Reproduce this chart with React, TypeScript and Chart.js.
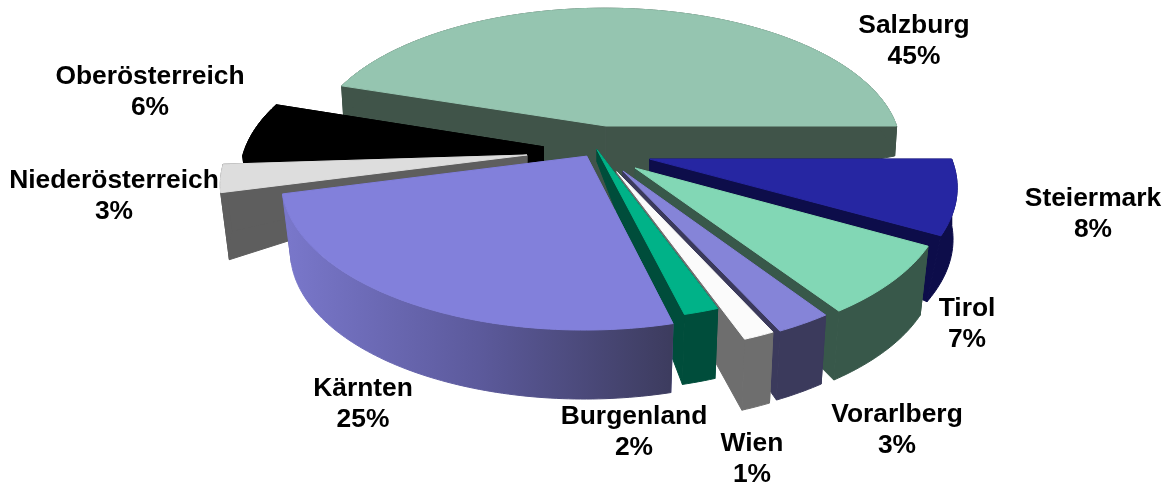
import React, { useEffect, useRef } from "react";
import { Chart, registerables } from "chart.js";

Chart.register(...registerables);

const regions = ["Salzburg", "Steiermark", "Tirol", "Vorarlberg", "Wien", "Burgenland", "Kärnten", "Niederösterreich", "Oberösterreich"];
const shares = [45, 8, 7.49, 2.51, 1.4, 1.6, 25, 3, 6];
const topColors = ["#95c5b0", "#2626a2", "#82d7b5", "#8584d8", "#fbfbfb", "#00b288", "#8280db", "#dddddd", "#000000"];
const wallColors = ["#405449", "#0d0d4a", "#38584a", "#3b3a5c", "#6e6e6e", "#004d3b", "#5c5a9c", "#5e5e5e", "#000000"];

// layout of the 3D look, per region: slice shift on the unit disk, wall height at apex and at rim
const shiftU = [0.02, 0.165, 0.115, 0.075, 0.055, -0.01, -0.044, -0.243, -0.19];
const shiftV = [-0.154, 0.08, 0.14, 0.16, 0.165, 0.015, 0.06, 0.052, -0.005];
const wallApex = [85, 14, 12, 12, 12, 12, 12, 10, 18];
const wallRim = [30, 66, 69, 69, 71, 70, 69, 67, 69];
const wallLean = [2, 0, 9, 8, 8, 8, 9, 9, 9];
const wallSkew = [0, 29, 0, 0, 0, 0, 0, 0, 0];
const labelX = [914, 1093, 967, 897, 752, 634, 363, 114, 150];
const labelY = [26, 199, 309, 415, 444, 417, 389, 181, 77];
const paintOrder = [0, 8, 7, 1, 2, 3, 4, 5, 6];

const CX = 600, CY = 147.5, A = 298, B = 143, K = 0.16;

const project = (u: number, v: number): [number, number] => {
  const s = 1 / (1 - K * v);
  return [CX + A * u * s, CY + B * v * s];
};

const threeD = {
  id: "threeD",
  beforeDatasetsDraw(chart: any) {
    const ctx: CanvasRenderingContext2D = chart.ctx;
    const arcs = chart.getDatasetMeta(0).data;
    const top = (i: number, lu: number, lv: number) => project(shiftU[i] + lu, shiftV[i] + lv);
    const bottom = (i: number, lu: number, lv: number): [number, number] => {
      const [x, y] = top(i, lu, lv);
      const r = Math.hypot(lu, lv);
      return [x - wallLean[i] * lu - wallSkew[i] * Math.max(0, lv), y + wallApex[i] + (wallRim[i] - wallApex[i]) * r];
    };
    const poly = (pts: [number, number][], fill: string | CanvasGradient) => {
      ctx.beginPath();
      pts.forEach((p, k) => (k ? ctx.lineTo(p[0], p[1]) : ctx.moveTo(p[0], p[1])));
      ctx.closePath();
      ctx.fillStyle = fill;
      ctx.fill();
      ctx.strokeStyle = fill;
      ctx.lineWidth = 1;
      ctx.lineJoin = "round";
      ctx.stroke();
    };
    paintOrder.forEach((i) => {
      const arc = arcs[i];
      const { startAngle, endAngle } = arc.getProps(["startAngle", "endAngle"], true);
      const n = Math.max(2, Math.ceil((endAngle - startAngle) / (Math.PI / 180)));
      const rim: [number, number][] = [];
      for (let k = 0; k <= n; k++) {
        const a = startAngle + ((endAngle - startAngle) * k) / n;
        rim.push([Math.cos(a), Math.sin(a)]);
      }
      const wall = wallColors[i];
      const first = rim[0], last = rim[n];
      poly([top(i, 0, 0), top(i, first[0], first[1]), bottom(i, first[0], first[1]), bottom(i, 0, 0)], wall);
      poly([top(i, 0, 0), top(i, last[0], last[1]), bottom(i, last[0], last[1]), bottom(i, 0, 0)], wall);
      let rimFill: string | CanvasGradient = wall;
      if (regions[i] === "Kärnten") {
        const g = ctx.createLinearGradient(280, 0, 676, 0);
        g.addColorStop(0, "#7a78cc");
        g.addColorStop(0.5, "#5c5a9c");
        g.addColorStop(1, "#3c3b5d");
        rimFill = g;
      }
      poly([...rim.map((p) => top(i, p[0], p[1])), ...rim.slice().reverse().map((p) => bottom(i, p[0], p[1]))], rimFill);
      poly([top(i, 0, 0), ...rim.map((p) => top(i, p[0], p[1]))], arc.options.backgroundColor);
    });
    return false;
  },
  afterDraw(chart: any) {
    const ctx: CanvasRenderingContext2D = chart.ctx;
    ctx.save();
    ctx.font = "bold 26.4px 'Liberation Sans', Arial, sans-serif";
    ctx.fillStyle = "#000";
    ctx.textAlign = "center";
    ctx.textBaseline = "middle";
    const total = shares.reduce((a, b) => a + b, 0);
    regions.forEach((name, i) => {
      ctx.fillText(name, labelX[i], labelY[i]);
      ctx.fillText(`${Math.round((shares[i] / total) * 100)}%`, labelX[i], labelY[i] + 31);
    });
    ctx.restore();
  },
};

export default function App() {
  const ref = useRef<HTMLCanvasElement>(null);
  useEffect(() => {
    const chart = new Chart(ref.current!, {
      type: "pie",
      data: {
        labels: regions,
        datasets: [{ data: shares, backgroundColor: topColors, borderWidth: 0 }],
      },
      options: {
        animation: false,
        responsive: false,
        rotation: -72,
        plugins: { legend: { display: false }, tooltip: { enabled: false } },
      },
      plugins: [threeD],
    } as any);
    return () => chart.destroy();
  }, []);
  return (
    <div style={{ position: "absolute", left: 0, top: 0, width: 1168, height: 486, background: "#fff" }}>
      <canvas ref={ref} width={1168} height={486} style={{ display: "block" }} />
    </div>
  );
}
